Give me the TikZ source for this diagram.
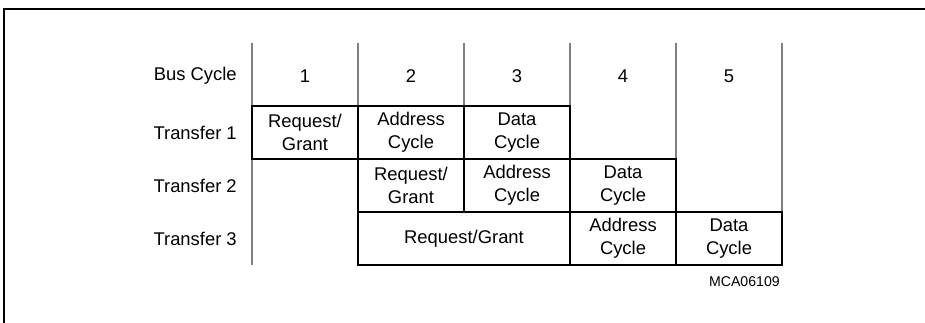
\documentclass[tikz,border=0pt]{standalone}
\usepackage{fontspec}
\setmainfont{Liberation Sans}
\begin{document}
\begin{tikzpicture}[x=0.75pt,y=-0.75pt,
  txt/.style={font=\fontsize{13.8}{17.5}\selectfont, inner sep=0pt},
  cell/.style={txt, draw=black, line width=1.4pt, align=center,
    minimum height=39.75pt, minimum width=79.5pt},
  widecell/.style={cell, minimum width=159pt},
  grid/.style={draw=black!50, line width=0.8pt},
  rowlabel/.style={txt, anchor=east}]
\useasboundingbox (0,0) rectangle (925,323);
% frame
\draw[line width=0.8pt] (4,323) -- (4,9) -- (925,9);
% grid lines
\foreach \x/\yb in {252/265, 358/106, 464/106, 570/106, 676/159, 782/212}{
  \coordinate (gt\x) at (\x,43);
  \coordinate (gb\x) at (\x,\yb);
  \draw[grid] (gt\x) -- (gb\x);
}
% header
\node[rowlabel] (hbus) at (237,76) {Bus Cycle};
\node[txt] (h1) at (305,76) {1};
\node[txt] (h2) at (411,76) {2};
\node[txt] (h3) at (517,76) {3};
\node[txt] (h4) at (623,76) {4};
\node[txt] (h5) at (729,76) {5};
% row labels
\node[rowlabel] (t1) at (237,132.5) {Transfer 1};
\node[rowlabel] (t2) at (237,185.5) {Transfer 2};
\node[rowlabel] (t3) at (237,238.5) {Transfer 3};
% transfer 1
\node[cell] (a1) at (305,132.5) {Request/\\Grant};
\node[cell] (a2) at (411,132.5) {Address\\Cycle};
\node[cell] (a3) at (517,132.5) {Data\\Cycle};
% transfer 2
\node[cell] (b1) at (411,185.5) {Request/\\Grant};
\node[cell] (b2) at (517,185.5) {Address\\Cycle};
\node[cell] (b3) at (623,185.5) {Data\\Cycle};
% transfer 3
\node[widecell] (c1) at (464,238.5) {Request/Grant};
\node[cell] (c2) at (623,238.5) {Address\\Cycle};
\node[cell] (c3) at (729,238.5) {Data\\Cycle};
% figure id
\node[inner sep=0pt, anchor=east, font=\fontsize{10.6}{12}\selectfont] (id) at (780,282) {MCA06109};
\end{tikzpicture}
\end{document}
